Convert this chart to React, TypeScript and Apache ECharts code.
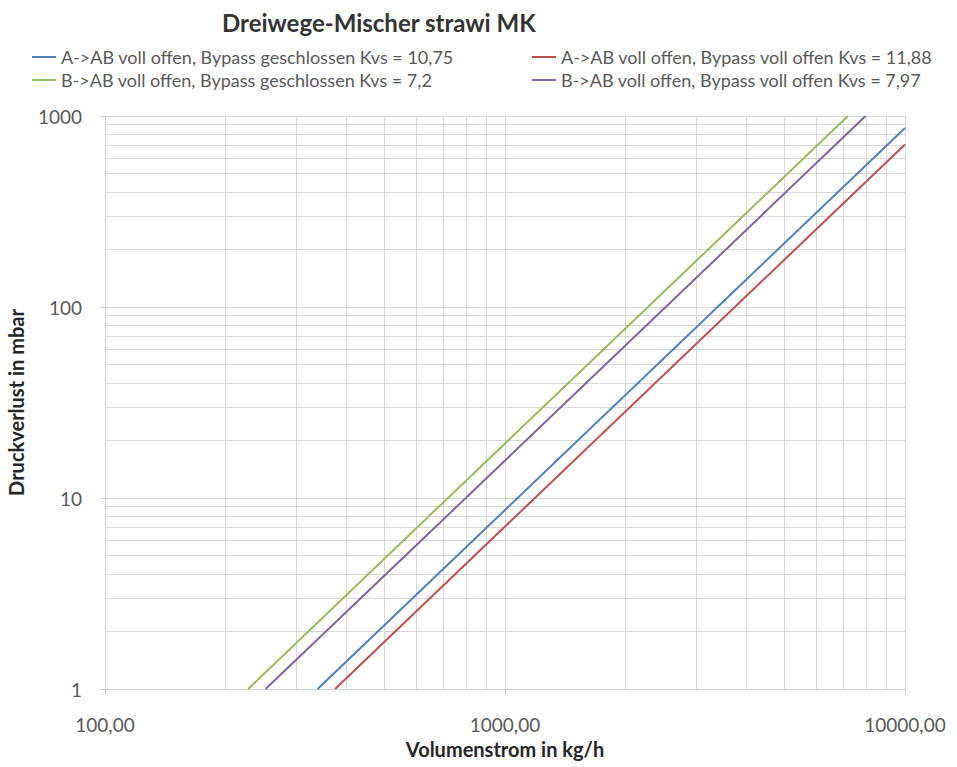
import React, { useEffect, useRef } from "react";
import * as echarts from "echarts";

const titleText = "Dreiwege-Mischer strawi MK";
const xAxisName = "Volumenstrom in kg/h";
const yAxisName = "Druckverlust in mbar";

const seriesNames = [
  "A->AB voll offen, Bypass geschlossen Kvs = 10,75",
  "A->AB voll offen, Bypass voll offen Kvs = 11,88",
  "B->AB voll offen, Bypass geschlossen Kvs = 7,2",
  "B->AB voll offen, Bypass voll offen Kvs = 7,97",
];
const seriesColors = ["#4f81bd", "#c0504d", "#9bbb59", "#8064a2"];

// flow (kg/h) and pressure drop (mbar)
const flowA_closed = [340, 1000, 10000];
const dpA_closed = [1, 8.65, 865];
const flowA_open = [376, 1000, 10000];
const dpA_open = [1, 7.09, 709];
const flowB_closed = [228, 1000, 7200];
const dpB_closed = [1, 19.3, 1000];
const flowB_open = [252, 1000, 7970];
const dpB_open = [1, 15.7, 1000];

const xMinorGrid = [200, 300, 400, 500, 600, 700, 800, 900, 2000, 3000, 4000, 5000, 6000, 7000, 8000, 9000];
const yMinorGrid = [2, 3, 4, 5, 6, 7, 8, 9, 20, 30, 40, 50, 60, 70, 80, 90, 200, 300, 400, 500, 600, 700, 800, 900];

const zip = (xs: number[], ys: number[]) => xs.map((x, i) => [x, ys[i]]);

export default function App() {
  const ref = useRef<HTMLDivElement>(null);
  useEffect(() => {
    if (!ref.current) return;
    document.body.style.margin = "0";
    const chart = echarts.init(ref.current, null, { renderer: "svg" });
    const font = "Lato, 'Open Sans', sans-serif";
    const gridColor = "#d9d9d9";
    const datasets = [
      zip(flowA_closed, dpA_closed),
      zip(flowA_open, dpA_open),
      zip(flowB_closed, dpB_closed),
      zip(flowB_open, dpB_open),
    ];
    const legendText = { color: "#595959", fontSize: 18, fontFamily: font };
    const legendCommon = {
      orient: "vertical",
      top: 43,
      itemWidth: 24,
      itemHeight: 2,
      itemGap: 5,
      icon: "rect",
      textStyle: legendText,
      selectedMode: false,
    };
    chart.setOption({
      animation: false,
      backgroundColor: "#ffffff",
      title: {
        text: titleText,
        left: 217,
        top: 8,
        padding: [2, 5, 5, 5],
        textStyle: { fontFamily: font, fontWeight: "bold", fontSize: 24, color: "#333333" },
      },
      legend: [
        { ...legendCommon, data: [seriesNames[0], seriesNames[2]], left: 27 },
        { ...legendCommon, data: [seriesNames[1], seriesNames[3]], left: 527 },
      ],
      grid: { left: 105, right: 52, top: 116, bottom: 78, containLabel: false, outerBoundsMode: "none" },
      xAxis: {
        type: "log",
        logBase: 10,
        min: 100,
        max: 10000,
        name: xAxisName,
        nameLocation: "middle",
        nameGap: 50,
        nameTextStyle: { fontFamily: font, fontWeight: "bold", fontSize: 20, color: "#262626" },
        axisLine: { show: true, lineStyle: { color: "#d0d0d0", width: 1 } },
        axisTick: { show: true, inside: false, length: 5, lineStyle: { color: "#d0d0d0" } },
        axisLabel: {
          fontFamily: font,
          fontSize: 19,
          color: "#595959",
          margin: 26,
          formatter: (v: number) => v.toFixed(2).replace(".", ","),
        },
        splitLine: { show: true, lineStyle: { color: gridColor, width: 1 } },
      },
      yAxis: {
        type: "log",
        logBase: 10,
        min: 1,
        max: 1000,
        name: yAxisName,
        nameLocation: "middle",
        nameGap: 79,
        nameTextStyle: { fontFamily: font, fontWeight: "bold", fontSize: 20, color: "#262626" },
        axisLine: { show: true, lineStyle: { color: "#d0d0d0", width: 1 } },
        axisTick: { show: true, inside: false, length: 5, lineStyle: { color: "#d0d0d0" } },
        axisLabel: {
          fontFamily: font,
          fontSize: 19,
          color: "#595959",
          margin: 23,
          formatter: (v: number) => String(v),
        },
        splitLine: { show: true, lineStyle: { color: gridColor, width: 1 } },
      },
      series: [
        {
          type: "line",
          name: "__grid",
          data: [],
          silent: true,
          z: 1,
          markLine: {
            silent: true,
            symbol: "none",
            z: 1,
            label: { show: false },
            animation: false,
            lineStyle: { color: gridColor, width: 1, type: "solid" },
            emphasis: { disabled: true },
            data: [
              ...xMinorGrid.map((v) => ({ xAxis: v })),
              ...yMinorGrid.map((v) => ({ yAxis: v })),
            ],
          },
        },
        ...datasets.map((d, i) => ({
          type: "line",
          name: seriesNames[i],
          data: d,
          showSymbol: false,
          symbol: "none",
          z: 10,
          lineStyle: { color: seriesColors[i], width: 2 },
          itemStyle: { color: seriesColors[i] },
        })),
      ],
    });
    return () => chart.dispose();
  }, []);
  return <div ref={ref} style={{ width: 957, height: 767 }} />;
}
